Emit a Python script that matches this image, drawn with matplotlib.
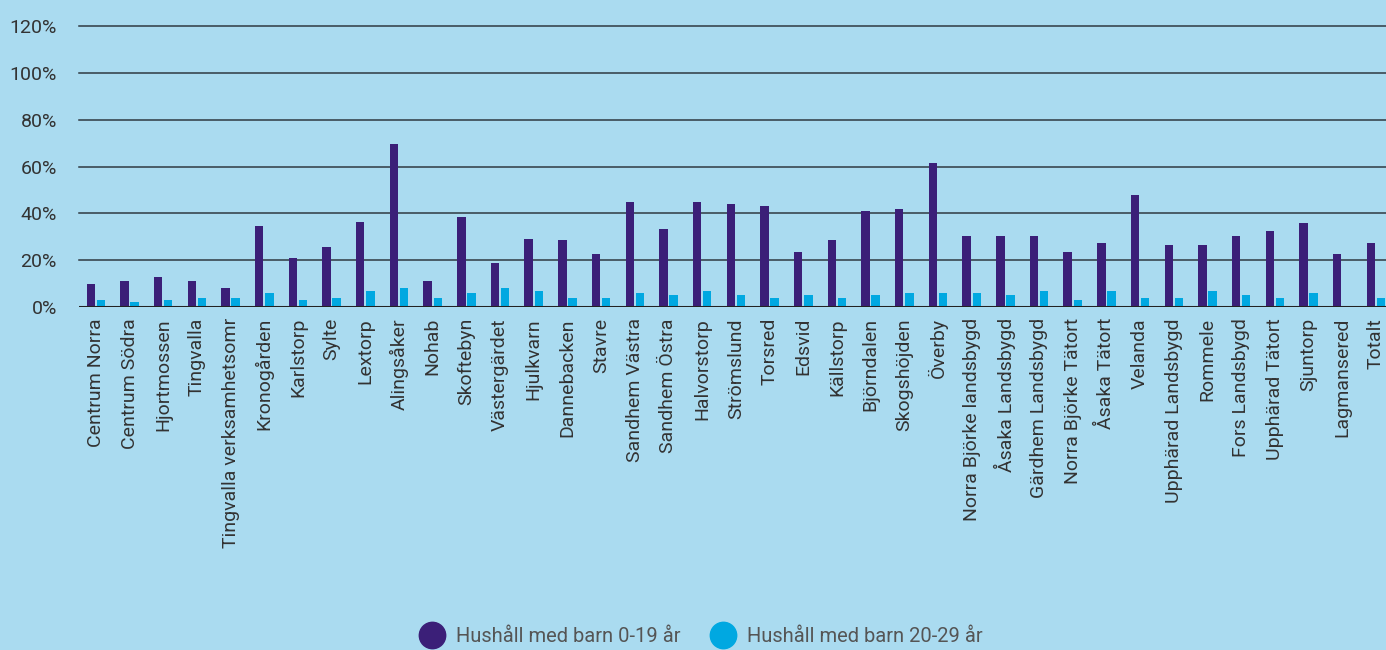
import matplotlib.pyplot as plt
import matplotlib as mpl
from matplotlib.lines import Line2D
import numpy as np

BG = "#aadbf0"
PURPLE = "#3b1f78"
CYAN = "#00a8e1"
GRID = "#2f3a42"
TEXT = "#333333"

omraden = ["Centrum Norra", "Centrum Södra", "Hjortmossen", "Tingvalla",
           "Tingvalla verksamhetsomr", "Kronogården", "Karlstorp", "Sylte",
           "Lextorp", "Alingsåker", "Nohab", "Skoftebyn", "Västergärdet",
           "Hjulkvarn", "Dannebacken", "Stavre", "Sandhem Västra",
           "Sandhem Östra", "Halvorstorp", "Strömslund", "Torsred", "Edsvid",
           "Källstorp", "Björndalen", "Skogshöjden", "Överby",
           "Norra Björke landsbygd", "Åsaka Landsbygd", "Gärdhem Landsbygd",
           "Norra Björke Tätort", "Åsaka Tätort", "Velanda",
           "Upphärad Landsbygd", "Rommele", "Fors Landsbygd",
           "Upphärad Tätort", "Sjuntorp", "Lagmansered", "Totalt"]

barn_0_19 = [10, 11, 13, 11, 8, 34.5, 21, 25.5, 36.5, 69.5, 11, 38.5, 19,
             29, 28.5, 22.5, 45, 33.5, 45, 44, 43, 23.5, 28.5, 41, 42, 61.5,
             30.5, 30.5, 30.5, 23.5, 27.5, 48, 26.5, 26.5, 30.5, 32.5, 36,
             22.5, 27.5]
barn_20_29 = [3, 2, 3, 4, 4, 6, 3, 4, 7, 8, 4, 6, 8, 7, 4, 4, 6, 5, 7, 5,
              4, 5, 4, 5, 6, 6, 6, 5, 7, 3, 7, 4, 4, 7, 5, 4, 6, 0, 4]

yticks = [0, 20, 40, 60, 80, 100, 120]

plt.rcParams["font.family"] = ["Roboto", "DejaVu Sans"]

fig = plt.figure(figsize=(13.86, 6.5), dpi=100)
fig.patch.set_facecolor(BG)
ax = fig.add_axes([79 / 1386, 1 - 307 / 650, 1 - 79 / 1386, (307 - 26) / 650])
ax.set_facecolor(BG)

x = np.arange(len(omraden))
w = 0.25
ax.bar(x - 0.15, barn_0_19, width=w, color=PURPLE, zorder=2)
ax.bar(x + 0.15, barn_20_29, width=w, color=CYAN, zorder=2)

ax.set_ylim(0, 120)
ax.set_xlim(-0.5, 38.3)
ax.set_yticks(yticks)
ax.set_yticklabels([f"{v}%" for v in yticks])
for v in yticks[1:]:
    ax.axhline(v, color=GRID, lw=1.1, zorder=1, clip_on=False)
ax.axhline(0, color="#222222", lw=2.2, zorder=3)

ax.set_xticks(x)
ax.set_xticklabels(omraden, rotation=90, ha="center", va="top")
ax.tick_params(axis="both", length=0, colors=TEXT, labelsize=14)
ax.tick_params(axis="y", pad=16)
ax.tick_params(axis="x", pad=8)
for s in ax.spines.values():
    s.set_visible(False)

handles = [Line2D([], [], marker="o", ls="", color=PURPLE, markersize=19),
           Line2D([], [], marker="o", ls="", color=CYAN, markersize=19)]
fig.legend(handles, ["Hushåll med barn 0-19 år", "Hushåll med barn 20-29 år"],
           loc="center", bbox_to_anchor=(0.506, 0.02), ncol=2, frameon=False,
           fontsize=14.5, labelcolor="#555555", handletextpad=0.6,
           columnspacing=1.5, handlelength=1.2)

fig.savefig("out.png", dpi=100, facecolor=BG)
